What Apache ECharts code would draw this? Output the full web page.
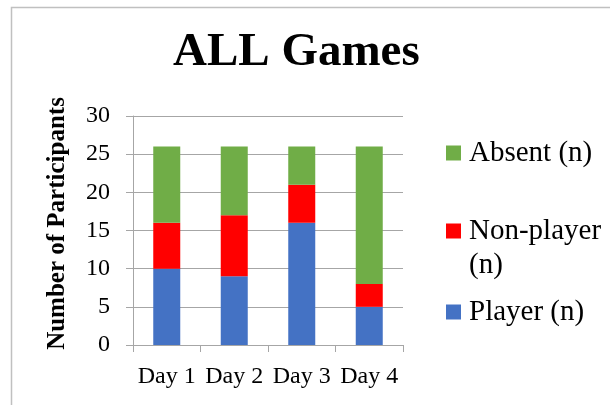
<!DOCTYPE html>
<html>
<head>
<meta charset="utf-8">
<script src="https://cdn.jsdelivr.net/npm/echarts@6/dist/echarts.min.js"></script>
<style>
  html, body { margin: 0; padding: 0; background: #ffffff; }
  #chart { width: 610px; height: 405px; }
</style>
</head>
<body>
<div id="chart"></div>
<script>
// Participation per day, stacked by group
const days = ['Day 1', 'Day 2', 'Day 3', 'Day 4'];
const player = [10, 9, 16, 5];
const nonPlayer = [6, 8, 5, 3];
const absent = [10, 9, 5, 18];
const yTicks = [0, 5, 10, 15, 20, 25, 30];

const FONT = '"Liberation Serif", "Times New Roman", serif';
const GRAY = '#a6a6a6';

const chart = echarts.init(document.getElementById('chart'), null, { renderer: 'canvas' });

function legendFor(name, top, formatter) {
  return {
    data: [name],
    orient: 'vertical',
    left: 446,
    top: top,
    padding: 0,
    itemWidth: 15,
    itemHeight: 15,
    itemGap: 0,
    icon: 'rect',
    selectedMode: false,
    formatter: formatter,
    textStyle: {
      fontFamily: FONT,
      fontSize: 29,
      color: '#000',
      lineHeight: 34,
      padding: [0, 0, 0, 3]
    }
  };
}

chart.setOption({
  animation: false,
  backgroundColor: '#ffffff',
  title: {
    text: 'ALL Games',
    left: 173,
    top: 29,
    padding: 0,
    textStyle: { fontFamily: FONT, fontSize: 47, fontWeight: 'bold', color: '#000' }
  },
  graphic: [{
    type: 'rect',
    shape: { x: 11.5, y: 7.5, width: 700, height: 500 },
    style: { fill: 'none', stroke: '#c0c0c0', lineWidth: 1.5 },
    silent: true
  }],
  legend: [
    legendFor('Absent (n)', 136, '{name}'),
    // blank first line keeps the marker level with "Non-player"
    legendFor('Non-player (n)', 180, ' \nNon-player\n(n)'),
    legendFor('Player (n)', 295, '{name}')
  ],
  grid: { left: 133, right: 207, top: 116, bottom: 60, containLabel: false },
  xAxis: {
    type: 'category',
    data: days,
    axisLine: { show: true, lineStyle: { color: GRAY, width: 1 } },
    axisTick: { show: true, length: 7, alignWithLabel: false, lineStyle: { color: GRAY } },
    axisLabel: { margin: 20, fontFamily: FONT, fontSize: 24, color: '#000', interval: 0 }
  },
  yAxis: {
    type: 'value',
    min: yTicks[0],
    max: yTicks[yTicks.length - 1],
    interval: 5,
    name: 'Number of Participants',
    nameLocation: 'middle',
    nameGap: 63,
    nameTextStyle: {
      fontFamily: FONT, fontSize: 25, fontWeight: 'bold', color: '#000',
      padding: [0, 0, 0, 14]
    },
    axisLine: { show: true, lineStyle: { color: GRAY, width: 1 } },
    axisTick: { show: true, length: 7, lineStyle: { color: GRAY } },
    axisLabel: { margin: 23, fontFamily: FONT, fontSize: 24, color: '#000' },
    splitLine: { show: true, lineStyle: { color: GRAY, width: 1 } }
  },
  series: [
    { name: 'Player (n)', type: 'bar', stack: 'all', data: player, barWidth: 27,
      itemStyle: { color: '#4472C4' } },
    { name: 'Non-player (n)', type: 'bar', stack: 'all', data: nonPlayer, barWidth: 27,
      itemStyle: { color: '#FF0000' } },
    { name: 'Absent (n)', type: 'bar', stack: 'all', data: absent, barWidth: 27,
      itemStyle: { color: '#70AD47' } }
  ]
});
</script>
</body>
</html>
